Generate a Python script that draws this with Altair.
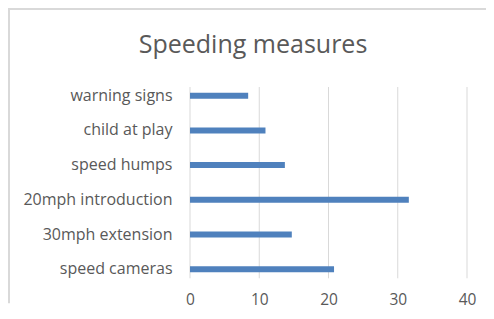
import altair as alt
import pandas as pd

categories = ["warning signs", "child at play", "speed humps", "20mph introduction", "30mph extension", "speed cameras"]
values = [8.4, 10.9, 13.7, 31.6, 14.7, 20.8]
tick_values = [0, 10, 20, 30, 40]
title_text = "Speeding measures"

FONT = "Open Sans"
GRAY = "#595959"
W, H = 277, 208.2

df = pd.DataFrame({"measure": categories, "value": values})
grid_df = pd.DataFrame({"g": tick_values})
title_df = pd.DataFrame({"t": [title_text]})

x_scale = alt.Scale(domain=[0, 40], nice=False)
x_axis = alt.Axis(values=tick_values, grid=False, ticks=False, domain=False, labelFlush=False,
                  labelPadding=6, labelFontSize=15.5, labelFont=FONT, labelColor=GRAY)

grid = alt.Chart(grid_df).mark_rule(color="#d9d9d9", strokeWidth=1).encode(
    x=alt.X("g:Q", scale=x_scale, axis=x_axis, title=None),
    y=alt.value(8.65),
    y2=alt.value(199.95),
)

bars = alt.Chart(df).mark_bar(color="#4f81bd", size=6).encode(
    y=alt.Y("measure:N", sort=None, title=None,
            scale=alt.Scale(paddingInner=0, paddingOuter=0),
            axis=alt.Axis(ticks=False, domain=False, labelPadding=18, labelFontSize=16,
                          labelFont=FONT, labelColor=GRAY, labelLimit=300)),
    x=alt.X("value:Q", scale=x_scale, title=None, axis=x_axis),
)

title = alt.Chart(title_df).mark_text(font=FONT, fontSize=25, color=GRAY, align="center",
                                      baseline="alphabetic").encode(
    text="t:N", x=alt.value(63), y=alt.value(-25.35)
)

border_top = alt.Chart(title_df).mark_rule(color="#d9d9d9", strokeWidth=2).encode(
    x=alt.value(-182), x2=alt.value(296), y=alt.value(-69.35)
)
border_left = alt.Chart(title_df).mark_rule(color="#d9d9d9", strokeWidth=2).encode(
    x=alt.value(-181), y=alt.value(-69.35), y2=alt.value(225)
)

chart = alt.layer(grid, bars, title, border_top, border_left).properties(
    width=W, height=H,
    autosize=alt.AutoSizeParams(type="none"),
    padding={"left": 182, "top": 70.35, "right": 19, "bottom": 24.45},
).configure_view(stroke=None)

chart.save("out.html", embed_options={"renderer": "svg", "actions": False})
